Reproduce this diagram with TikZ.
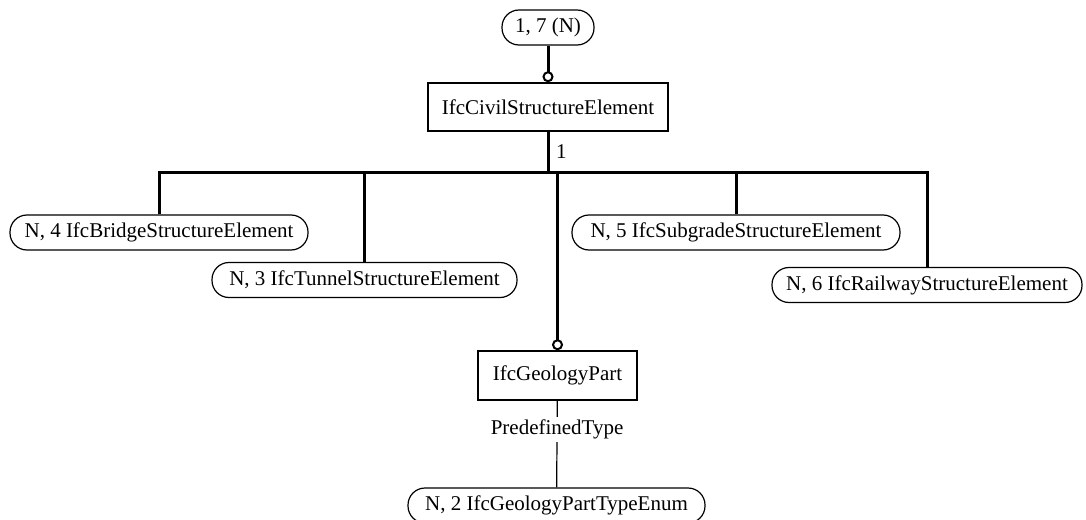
\documentclass[tikz,border=0pt]{standalone}
\usepackage{fontspec}
\setmainfont{Liberation Serif}
\usetikzlibrary{arrows.meta}

\tikzset{
  ent/.style={draw, line width=0.75pt, inner sep=0pt, minimum height=24pt},
  sel/.style={draw, line width=0.6pt, rounded corners=8.5pt, inner sep=0pt, minimum height=17.5pt},
  rel/.style={line width=1.5pt},
  relo/.style={line width=1.5pt, -{Circle[open,length=5.5pt,width=5.5pt,line width=1pt]}},
  attr/.style={line width=0.6pt},
}

\begin{document}
\begin{tikzpicture}
    [x=0.5pt,y=-0.5pt,font=\fontsize{10.5}{12}\selectfont]
    \useasboundingbox (0,0) rectangle (1086,519);

    \node[sel, minimum width=46pt] (T) at (548,27.5) {1, 7 (N)};
    \node[ent, minimum width=120pt] (C) at (548,107) {IfcCivilStructureElement};
    \coordinate (J) at (548,172);

    \node[sel, minimum width=149pt] (Br) at (159,232.5) {N, 4 IfcBridgeStructureElement};
    \node[sel, minimum width=152.5pt] (Tu) at (364.5,280) {N, 3 IfcTunnelStructureElement};
    \node[sel, minimum width=164pt] (Sg) at (736,232.5) {N, 5 IfcSubgradeStructureElement};
    \node[sel, minimum width=155pt] (Rw) at (927,285) {N, 6 IfcRailwayStructureElement};

    \node[ent, minimum width=79.5pt, minimum height=24.5pt] (G) at (557.5,375.5) {IfcGeologyPart};
    \node[sel, minimum width=148.5pt] (E) at (556.5,505.5) {N, 2 IfcGeologyPartTypeEnum};

    \draw[relo] (T) -- (C);
    \draw[rel] (C) -- node[right, pos=0.5] {1} (J);
    \draw[rel] (Br.north) |- (J) -| (Rw.north);
    \draw[rel] (Tu.north) -- (Tu.north |- J);
    \draw[rel] (Sg.north) -- (Sg.north |- J);
    \draw[relo] (G.north |- J) -- (G.north);
    \draw[attr] (G) -- node[fill=white, pos=0.33, inner sep=1.5pt] {PredefinedType} (E);
  \end{tikzpicture}
\end{document}
